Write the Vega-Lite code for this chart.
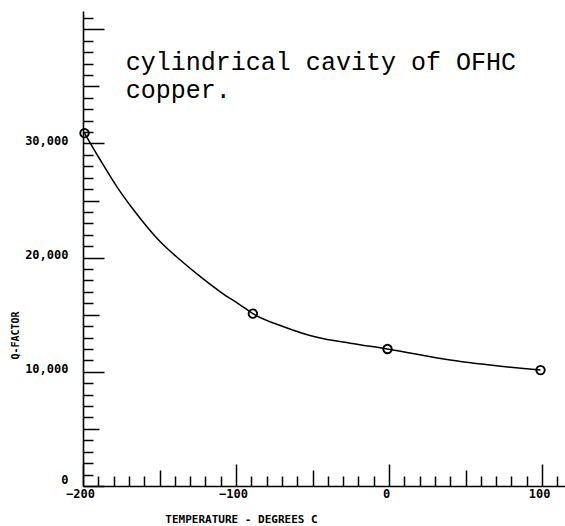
{
  "$schema": "https://vega.github.io/schema/vega-lite/v6.json",
  "autosize": {"type": "none"},
  "padding": {"left": 83, "top": 11, "right": 0, "bottom": 40},
  "width": 482,
  "height": 475,
  "background": "white",
  "config": {"view": {"stroke": null}},
  "datasets": {
    "curve": [
      {"t": -199, "q": 30900}, {"t": -188.7, "q": 28550}, {"t": -177.8, "q": 26200},
      {"t": -166.9, "q": 24170}, {"t": -158.2, "q": 22710}, {"t": -149.5, "q": 21390},
      {"t": -136.4, "q": 19790}, {"t": -123.3, "q": 18330}, {"t": -110.3, "q": 17010},
      {"t": -97.2, "q": 15850}, {"t": -89, "q": 15100}, {"t": -68.9, "q": 13950},
      {"t": -47.1, "q": 13020}, {"t": -25.3, "q": 12500}, {"t": -1, "q": 12000},
      {"t": 40, "q": 11030}, {"t": 99, "q": 10150}
    ],
    "measured": [
      {"t": -199, "q": 30900}, {"t": -89, "q": 15100}, {"t": -1, "q": 12000}, {"t": 99, "q": 10150}
    ],
    "note": [{"label": "cylindrical cavity of OFHC\ncopper."}]
  },
  "layer": [
    {
      "data": {"name": "curve"},
      "mark": {"type": "line", "interpolate": "monotone", "color": "black", "strokeWidth": 1.5, "clip": true},
      "encoding": {
        "x": {
          "field": "t", "type": "quantitative",
          "scale": {"domain": [-200, 115], "nice": false, "zero": false},
          "axis": {
            "values": [-200,-190,-180,-170,-160,-150,-140,-130,-120,-110,-100,-90,-80,-70,-60,-50,-40,-30,-20,-10,0,10,20,30,40,50,60,70,80,90,100,110],
            "tickCount": 200,
            "format": "d",
            "labelExpr": "datum.value % 100 === 0 ? datum.label : ''",
            "tickSize": {"condition": [{"test": "datum.value % 100 === 0", "value": -22}, {"test": "datum.value % 50 === 0", "value": -16}], "value": -10},
            "grid": false,
            "domainColor": "black", "domainWidth": 1.6,
            "tickColor": "black", "tickWidth": 1.5,
            "labelFont": "DejaVu Sans Mono", "labelFontSize": 12, "labelFontWeight": "bold", "labelColor": "black",
            "labelPadding": 24, "labelOffset": -3, "labelFlush": false, "labelOverlap": false,
            "title": "TEMPERATURE - DEGREES C",
            "titleFont": "DejaVu Sans Mono", "titleFontSize": 11, "titleFontWeight": "bold", "titleColor": "black",
            "titleX": 158, "titleY": 33, "titleBaseline": "middle", "titleAlign": "center"
          }
        },
        "y": {
          "field": "q", "type": "quantitative",
          "scale": {"domain": [0, 41600], "nice": false},
          "axis": {
            "values": [0,1000,2000,3000,4000,5000,6000,7000,8000,9000,10000,11000,12000,13000,14000,15000,16000,17000,18000,19000,20000,21000,22000,23000,24000,25000,26000,27000,28000,29000,30000,31000,32000,33000,34000,35000,36000,37000,38000,39000,40000,41000],
            "tickCount": 200,
            "format": ",d",
            "labelExpr": "datum.value % 10000 === 0 && datum.value < 40000 ? datum.label : ''",
            "tickSize": {"condition": [{"test": "datum.value % 10000 === 0", "value": -21}, {"test": "datum.value % 5000 === 0", "value": -16}], "value": -10},
            "grid": false,
            "domainColor": "black", "domainWidth": 1.6,
            "tickColor": "black", "tickWidth": 1.5,
            "labelFont": "DejaVu Sans Mono", "labelFontSize": 12, "labelFontWeight": "bold", "labelColor": "black",
            "labelPadding": 36,
            "labelOffset": {"condition": {"test": "datum.value === 0", "value": -7}, "value": -3},
            "labelFlush": false, "labelOverlap": false,
            "title": "Q-FACTOR",
            "titleFont": "DejaVu Sans Mono", "titleFontSize": 10, "titleFontWeight": "bold", "titleColor": "black",
            "titleX": -68, "titleY": 324, "titleAngle": 270, "titleBaseline": "middle", "titleAlign": "center"
          }
        }
      }
    },
    {
      "data": {"name": "measured"},
      "mark": {"type": "point", "shape": "circle", "filled": false, "color": "black", "size": 72, "strokeWidth": 1.9, "opacity": 1},
      "encoding": {
        "x": {"field": "t", "type": "quantitative"},
        "y": {"field": "q", "type": "quantitative"}
      }
    },
    {
      "data": {"name": "note"},
      "mark": {"type": "text", "font": "Liberation Mono", "fontSize": 25, "lineHeight": 28, "lineBreak": "\n", "align": "left", "baseline": "alphabetic", "color": "black"},
      "encoding": {
        "x": {"datum": -172, "type": "quantitative"},
        "y": {"datum": 36430, "type": "quantitative"},
        "text": {"field": "label"}
      }
    }
  ]
}
